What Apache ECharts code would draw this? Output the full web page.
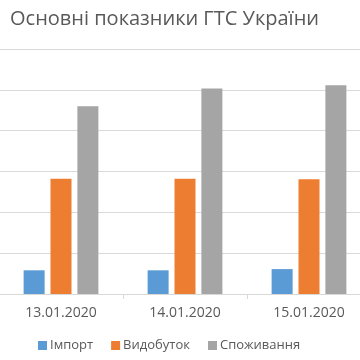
<!DOCTYPE html>
<html><head><meta charset="utf-8">
<script src="https://cdn.jsdelivr.net/npm/echarts@6/dist/echarts.min.js"></script>
<style>html,body{margin:0;padding:0;background:#fff;overflow:hidden;width:360px;height:360px;position:relative}#c{position:absolute;left:-1px;top:0;width:372px;height:360px}</style>
</head><body><div id="c"></div>
<script>
const categories = ['13.01.2020', '14.01.2020', '15.01.2020'];
const importVals = [11.6, 11.6, 12.2];
const productionVals = [56.4, 56.4, 56.2];
const consumptionVals = [92, 100.6, 102.2];
const seriesNames = ['Імпорт', 'Видобуток', 'Споживання'];
const colors = ['#5B9BD5', '#ED7D31', '#A5A5A5'];

const chart = echarts.init(document.getElementById('c'));
const font = 'Open Sans';
chart.setOption({
  animation: false,
  color: colors,
  title: {
    text: 'Основні показники ГТС України',
    left: 6, top: 4,
    textStyle: { fontFamily: font, fontSize: 20, fontWeight: 'normal', color: '#595959' }
  },
  legend: {
    bottom: 3, left: 34,
    icon: 'rect', itemWidth: 9, itemHeight: 9, itemGap: 18,
    textStyle: { fontFamily: font, fontSize: 13, color: '#595959', padding: [0, 0, 0, -2] },
    data: seriesNames
  },
  grid: { left: 0, right: 0, top: 49, height: 245, containLabel: false },
  xAxis: {
    type: 'category', data: categories,
    axisLine: { lineStyle: { color: '#d9d9d9' } },
    axisTick: { show: true, length: 5, lineStyle: { color: '#d9d9d9' } },
    axisLabel: { fontFamily: font, fontSize: 14, color: '#595959', margin: 12 }
  },
  yAxis: {
    type: 'value', min: 0, max: 120, interval: 20,
    axisLabel: { show: false }, axisLine: { show: false }, axisTick: { show: false },
    splitLine: { lineStyle: { color: '#d9d9d9' } }
  },
  series: [
    { name: seriesNames[0], type: 'bar', data: importVals, barWidth: 21, barGap: '28%' },
    { name: seriesNames[1], type: 'bar', data: productionVals, barWidth: 21, barGap: '28%' },
    { name: seriesNames[2], type: 'bar', data: consumptionVals, barWidth: 21, barGap: '28%' }
  ]
});
</script></body></html>
